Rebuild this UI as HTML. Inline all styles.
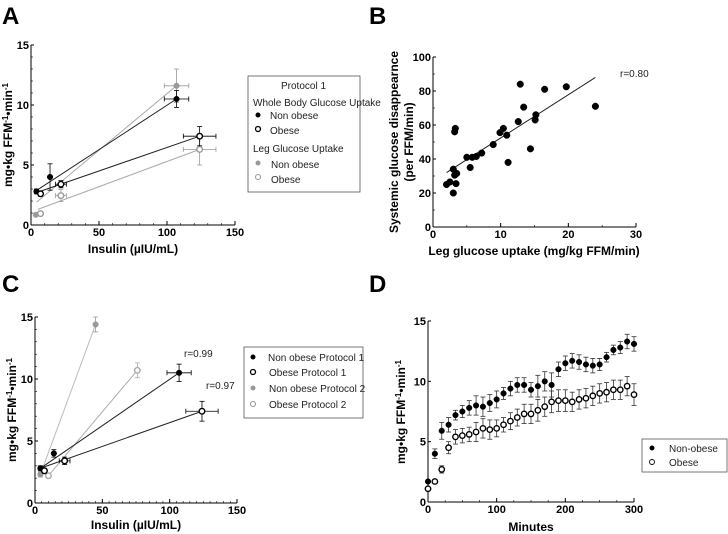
<!DOCTYPE html>
<html><head><meta charset="utf-8"><style>
body{margin:0;background:#fff;}
svg{display:block;font-family:"Liberation Sans",Arial,sans-serif;}
.tk{font-size:11px;font-weight:bold;fill:#000;}
.at{font-size:12px;font-weight:bold;fill:#000;}
.pl{font-size:24px;font-weight:bold;fill:#000;}
.lg{font-size:10px;fill:#222;}
</style></head><body>
<svg id="fig" width="728" height="534" viewBox="0 0 728 534" xmlns="http://www.w3.org/2000/svg">
<text class="pl" x="2" y="24">A</text>
<text class="pl" x="369" y="24">B</text>
<text class="pl" x="2" y="292">C</text>
<text class="pl" x="369" y="292">D</text>
<text class="at" x="133" y="253" text-anchor="middle">Insulin (µIU/mL)</text>
<text class="at" transform="translate(12,135) rotate(-90)" text-anchor="middle">mg•kg FFM<tspan dy="-4" font-size="8">-1</tspan><tspan dy="4">•min</tspan><tspan dy="-4" font-size="8">-1</tspan></text>
<text class="at" x="534" y="255" text-anchor="middle">Leg glucose uptake (mg/kg FFM/min)</text>
<text class="at" transform="translate(398,142) rotate(-90)" text-anchor="middle">Systemic glucose disappearnce</text>
<text class="at" transform="translate(413,142) rotate(-90)" text-anchor="middle">(per FFM/min)</text>
<text class="lg" x="620" y="77">r=0.80</text>
<text class="at" x="136" y="529" text-anchor="middle">Insulin (µIU/mL)</text>
<text class="at" transform="translate(16,410) rotate(-90)" text-anchor="middle">mg•kg FFM<tspan dy="-4" font-size="8">-1</tspan><tspan dy="4">•min</tspan><tspan dy="-4" font-size="8">-1</tspan></text>
<text class="lg" x="184" y="357">r=0.99</text>
<text class="lg" x="206" y="389">r=0.97</text>
<text class="at" x="531" y="531" text-anchor="middle">Minutes</text>
<text class="at" transform="translate(405,412) rotate(-90)" text-anchor="middle">mg•kg FFM<tspan dy="-4" font-size="8">-1</tspan><tspan dy="4">•min</tspan><tspan dy="-4" font-size="8">-1</tspan></text>
<g>
<rect x="248" y="76" width="112" height="116" fill="#fff" stroke="#555" stroke-width="0.8"/>
<text class="lg" x="281" y="89">Protocol 1</text>
<text class="lg" x="253" y="106">Whole Body Glucose Uptake</text>
<circle cx="258" cy="115" r="2.5" fill="#000"/><text class="lg" x="270" y="119">Non obese</text>
<circle cx="258" cy="129" r="2.5" fill="none" stroke="#000" stroke-width="1.3"/><text class="lg" x="270" y="134">Obese</text>
<text class="lg" x="253" y="152">Leg Glucose Uptake</text>
<circle cx="258" cy="163" r="2.5" fill="#999"/><text class="lg" x="271" y="168">Non obese</text>
<circle cx="258" cy="177" r="2.5" fill="none" stroke="#999" stroke-width="1.1"/><text class="lg" x="271" y="183">Obese</text>
</g>
<g>
<rect x="244" y="347" width="119" height="71" fill="#fff" stroke="#555" stroke-width="0.8"/>
<circle cx="253" cy="357" r="2.5" fill="#000"/><text class="lg" x="268" y="361">Non obese  Protocol 1</text>
<circle cx="253" cy="372" r="2.5" fill="none" stroke="#000" stroke-width="1.3"/><text class="lg" x="269" y="376">Obese Protocol 1</text>
<circle cx="253" cy="388" r="2.5" fill="#999"/><text class="lg" x="269" y="392">Non obese  Protocol 2</text>
<circle cx="253" cy="404" r="2.5" fill="none" stroke="#999" stroke-width="1.1"/><text class="lg" x="269" y="408">Obese  Protocol 2</text>
</g>
<g>
<rect x="642" y="439" width="85" height="33" fill="#fff" stroke="#555" stroke-width="0.8"/>
<circle cx="652" cy="448" r="2.5" fill="#000"/><text class="lg" x="669" y="452">Non-obese</text>
<circle cx="652" cy="462" r="2.5" fill="none" stroke="#000" stroke-width="0.9"/><text class="lg" x="669" y="466">Obese</text>
</g>
</svg>
<script>
// Panel A data
const aInsulinNonObese=[4,14,107], aWbNonObese=[2.8,4.0,10.5], aWbNonObeseErr=[0.2,1.1,0.7], aInsNonObeseErr=[1,1,9];
const aInsulinObese=[7,22,124], aWbObese=[2.6,3.4,7.4], aWbObeseErr=[0.2,0.3,0.8], aInsObeseErr=[1,4,12];
const aLegNonObeseX=[3.5,107], aLegNonObese=[0.85,11.6], aLegNonObeseErr=[0.1,1.4], aLegNonObeseXErr=[0,9];
const aLegObeseX=[7,22,124], aLegObese=[0.95,2.45,6.3], aLegObeseErr=[0.1,0.5,1.3], aLegObeseXErr=[0,4,12];
const aFitWbNonObese=[[3,2.8],[107,10.5]], aFitWbObese=[[4,2.7],[124,7.4]];
const aFitLegNonObese=[[4,1.9],[107,11.6]], aFitLegObese=[[5,1.3],[124,6.3]];
const aXTicks=[0,50,100,150], aYTicks=[0,5,10,15];
// Panel B data
const bLegX=[2,2.5,3,3,3.2,3.2,3.3,3.4,3.5,5,5.5,5.8,6.4,7.2,8.9,9.9,10.4,10.9,11.1,12.6,12.9,13.4,14.4,15.1,15.2,16.5,19.7,24];
const bSysY=[25,26.5,20,34,30.5,56,58,25.5,31.5,41,35,41,41.5,43.5,48.5,55.5,58,54,38,62,84,70.5,46,63,66,81,82.5,71];
const bFit=[[2,32],[24,88]];
const bXTicks=[0,10,20,30], bYTicks=[0,20,40,60,80,100];
// Panel C data
const cNonObeseP1X=[4,14,107], cNonObeseP1=[2.8,4.0,10.5], cNonObeseP1Err=[0.2,0.3,0.7], cNonObeseP1XErr=[1,1,9];
const cObeseP1X=[7,22,124], cObeseP1=[2.6,3.4,7.4], cObeseP1Err=[0.2,0.3,0.8], cObeseP1XErr=[1,4,12];
const cNonObeseP2X=[4,45], cNonObeseP2=[2.3,14.4], cNonObeseP2Err=[0.2,0.6];
const cObeseP2X=[10,76], cObeseP2=[2.2,10.7], cObeseP2Err=[0.2,0.6];
const cXTicks=[0,50,100,150], cYTicks=[0,5,10,15];
// Panel D data
const dMinutes=[0,10,20,30,40,50,60,70,80,90,100,110,120,130,140,150,160,170,180,190,200,210,220,230,240,250,260,270,280,290,300];
const dNonObese=[1.7,4.0,5.9,6.4,7.2,7.5,7.8,8.0,7.9,8.2,8.5,9.0,9.4,9.7,9.7,9.3,9.6,10.0,9.7,11.0,11.5,11.7,11.6,11.4,11.3,11.4,12.0,12.6,12.8,13.3,13.1];
const dObese=[1.1,1.7,2.7,4.5,5.4,5.5,5.6,5.8,6.1,6.0,6.1,6.4,6.7,7.0,7.3,7.3,7.6,7.9,8.3,8.4,8.4,8.3,8.5,8.6,8.8,9.0,9.1,9.3,9.3,9.6,8.9];
const dNonObeseErr=[0.1,0.4,0.7,0.6,0.4,0.5,0.6,0.8,0.8,0.7,0.7,0.5,0.6,0.6,0.6,0.6,0.9,0.8,1.0,0.6,0.6,0.6,0.6,0.6,0.6,0.5,0.4,0.4,0.5,0.6,0.6];
const dObeseErr=[0.1,0.1,0.3,0.5,0.6,0.6,0.6,0.8,0.8,0.8,0.7,0.6,0.7,0.7,0.8,0.8,0.9,0.8,0.9,0.9,0.9,0.8,0.8,0.8,0.8,0.8,0.8,0.8,0.8,0.8,0.9];
const dXTicks=[0,100,200,300], dYTicks=[0,5,10,15];

const svg=document.getElementById('fig');const NS='http://www.w3.org/2000/svg';
function mk(t,a,p){const e=document.createElementNS(NS,t);for(const k in a)e.setAttribute(k,a[k]);(p||svg).appendChild(e);return e;}
function axes(name,x0,x1,y0,y1,xmax,ymax,xt,yt,minorX,minorY){
  const g=mk('g',{});
  
  
  const sx=v=>x0+(x1-x0)*v/xmax, sy=v=>y0-(y0-y1)*v/ymax;
  mk('line',{x1:x0,y1:y0,x2:x1,y2:y0,stroke:'#000','stroke-width':1},g);
  mk('line',{x1:x0,y1:y0,x2:x0,y2:y1,stroke:'#000','stroke-width':1},g);
  xt.forEach(v=>{mk('line',{x1:sx(v),y1:y0,x2:sx(v),y2:y0-4,stroke:'#000'},g);const t=mk('text',{x:sx(v),y:y0+11,'text-anchor':'middle',class:'tk'},g);t.textContent=v;});
  yt.forEach(v=>{mk('line',{x1:x0,y1:sy(v),x2:x0+3,y2:sy(v),stroke:'#000'},g);const t=mk('text',{x:x0-2,y:sy(v)+4,'text-anchor':'end',class:'tk'},g);t.textContent=v;});
  if(minorX){for(let v=0;v<=xmax;v+=minorX)mk('line',{x1:sx(v),y1:y0,x2:sx(v),y2:y0-2,stroke:'#000','stroke-width':0.6},g);}
  if(minorY){for(let v=0;v<=ymax;v+=minorY)mk('line',{x1:x0,y1:sy(v),x2:x0+2,y2:sy(v),stroke:'#000','stroke-width':0.6},g);}
  return {sx,sy,g};
}
function ebar(ax,x,y,ey,ex,col){
  if(ey){mk('line',{x1:ax.sx(x),y1:ax.sy(y-ey),x2:ax.sx(x),y2:ax.sy(y+ey),stroke:col,'stroke-width':0.8});
    [y-ey,y+ey].forEach(v=>mk('line',{x1:ax.sx(x)-2.5,y1:ax.sy(v),x2:ax.sx(x)+2.5,y2:ax.sy(v),stroke:col,'stroke-width':0.8}));}
  if(ex){mk('line',{x1:ax.sx(x-ex),y1:ax.sy(y),x2:ax.sx(x+ex),y2:ax.sy(y),stroke:col,'stroke-width':0.8});
    [x-ex,x+ex].forEach(v=>mk('line',{x1:ax.sx(v),y1:ax.sy(y)-2.5,x2:ax.sx(v),y2:ax.sy(y)+2.5,stroke:col,'stroke-width':0.8}));}
}
function pt(ax,x,y,col,open,r,name){
  const c=mk('circle',{cx:ax.sx(x),cy:ax.sy(y),r:r||2.8,fill:open?'#fff':col,stroke:col,'stroke-width':open?1.4:0.5});
  
  
}
function fit(ax,f,col){mk('line',{x1:ax.sx(f[0][0]),y1:ax.sy(f[0][1]),x2:ax.sx(f[1][0]),y2:ax.sy(f[1][1]),stroke:col,'stroke-width':1});}
function series(ax,xs,ys,eys,exs,col,open,name,r){xs.forEach((x,i)=>ebar(ax,x,ys[i],eys?eys[i]:0,exs?exs[i]:0,col));xs.forEach((x,i)=>pt(ax,x,ys[i],col,open,r,name));}
function poly(ax,xs,ys,col){mk('polyline',{points:xs.map((x,i)=>ax.sx(x)+','+ax.sy(ys[i])).join(' '),fill:'none',stroke:col,'stroke-width':1});}

// A
const A=axes('a',31,235,225,45,150,15,aXTicks,aYTicks,10,1);
fit(A,aFitLegNonObese,'#aaa');fit(A,aFitLegObese,'#aaa');fit(A,aFitWbNonObese,'#222');fit(A,aFitWbObese,'#222');
series(A,aLegNonObeseX,aLegNonObese,aLegNonObeseErr,aLegNonObeseXErr,'#999',false,'a-leg-nonobese-point');
series(A,aLegObeseX,aLegObese,aLegObeseErr,aLegObeseXErr,'#999',true,'a-leg-obese-point');
series(A,aInsulinNonObese,aWbNonObese,aWbNonObeseErr,aInsNonObeseErr,'#000',false,'a-wb-nonobese-point');
series(A,aInsulinObese,aWbObese,aWbObeseErr,aInsObeseErr,'#000',true,'a-wb-obese-point');
// B
const B=axes('b',433,636,227,57,30,100,bXTicks,bYTicks,5,10);
fit(B,bFit,'#222');
bLegX.forEach((x,i)=>pt(B,x,bSysY[i],'#000',false,3.3,'b-point'));
// C
const C=axes('c',35,237,503,317,150,15,cXTicks,cYTicks,5,1);
poly(C,cNonObeseP2X,cNonObeseP2,'#bbb');poly(C,cObeseP2X,cObeseP2,'#aaa');
poly(C,[cNonObeseP1X[0],cNonObeseP1X[2]],[cNonObeseP1[0],cNonObeseP1[2]],'#222');
poly(C,[cObeseP1X[0]-3,cObeseP1X[2]],[cObeseP1[0]+0.2,cObeseP1[2]],'#222');
series(C,cNonObeseP2X,cNonObeseP2,cNonObeseP2Err,null,'#999',false,'c-nonobese-p2-point');
series(C,cObeseP2X,cObeseP2,cObeseP2Err,null,'#aaa',true,'c-obese-p2-point');
series(C,cNonObeseP1X,cNonObeseP1,cNonObeseP1Err,cNonObeseP1XErr,'#000',false,'c-nonobese-p1-point');
series(C,cObeseP1X,cObeseP1,cObeseP1Err,cObeseP1XErr,'#000',true,'c-obese-p1-point');
// D
const D=axes('d',428,634,502,321,300,15,dXTicks,dYTicks,25,null);
dMinutes.forEach((m,i)=>ebar(D,m,dNonObese[i],dNonObeseErr[i],0,'#333'));
dMinutes.forEach((m,i)=>ebar(D,m,dObese[i],dObeseErr[i],0,'#333'));
dMinutes.forEach((m,i)=>pt(D,m,dObese[i],'#000',true,2.7,'d-obese-point'));
dMinutes.forEach((m,i)=>pt(D,m,dNonObese[i],'#000',false,2.8,'d-nonobese-point'));
</script>
</body></html>
